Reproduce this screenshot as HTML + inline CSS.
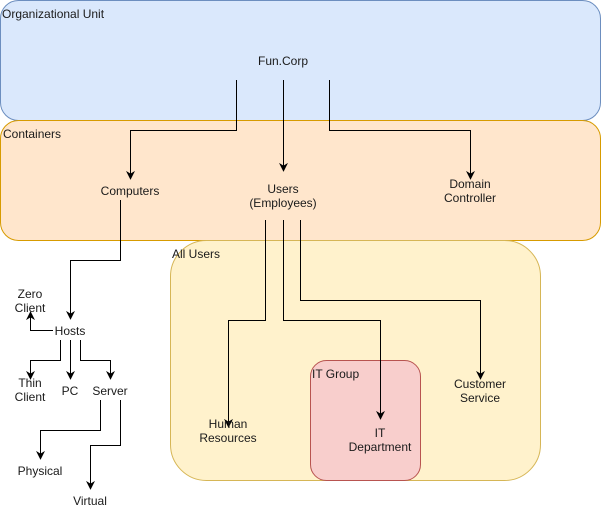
<!DOCTYPE html>
<html><head><meta charset="utf-8"><style>
html,body{margin:0;padding:0;background:#fff;}
svg{display:block;}
text{font-family:"Liberation Sans",Helvetica,Arial,sans-serif;font-size:12px;fill:#1a1a1a;}
</style></head><body>
<svg width="601" height="511" viewBox="0 0 601 511" xmlns="http://www.w3.org/2000/svg">
<defs>
<marker id="a" viewBox="0 0 10 10" refX="9" refY="5" markerWidth="9" markerHeight="9" markerUnits="userSpaceOnUse" orient="auto"><path d="M0,0 L10,5 L0,10 L3,5 z" fill="#000"/></marker>
</defs>
<rect x="0.5" y="0.5" width="600" height="120" rx="18" fill="#dae8fc" stroke="#6c8ebf"/>
<rect x="0.5" y="120.5" width="600" height="120" rx="18" fill="#ffe6cc" stroke="#d79b00"/>
<rect x="170.5" y="240.5" width="370" height="240" rx="36" fill="#fff2cc" stroke="#d6b656"/>
<rect x="310.5" y="360.5" width="110" height="120" rx="16" fill="#f8cecc" stroke="#b85450"/>

<g fill="none" stroke="#000" stroke-width="1" marker-end="url(#a)">
<path d="M236.5 80 V130.5 H130.5 V179"/>
<path d="M283.5 80 V171"/>
<path d="M329.5 80 V130.5 H470.5 V179"/>
<path d="M265.5 220 V320.5 H228.5 V427"/>
<path d="M283.5 220 V320.5 H380.5 V419"/>
<path d="M300.5 220 V300.5 H480.5 V379"/>
<path d="M120.5 200 V260.5 H70.5 V319"/>
<path d="M53 330.5 H30.5 V312"/>
<path d="M60.5 340 V360.5 H30.5 V379"/>
<path d="M70.5 340 V379"/>
<path d="M80.5 340 V360.5 H110.5 V379"/>
<path d="M100.5 400 V430.5 H40.5 V459"/>
<path d="M120.5 400 V445.5 H90.5 V489"/>
</g>

<text x="2" y="18">Organizational Unit</text>
<text x="3" y="138">Containers</text>
<text x="172" y="258">All Users</text>
<text x="312" y="378">IT Group</text>
<g text-anchor="middle">
<text x="283" y="65">Fun.Corp</text>
<text x="130" y="195">Computers</text>
<text x="283" y="193">Users</text>
<text x="283" y="207">(Employees)</text>
<text x="470" y="188">Domain</text>
<text x="470" y="202">Controller</text>
<text x="228" y="428">Human</text>
<text x="228" y="442">Resources</text>
<text x="380" y="437">IT</text>
<text x="380" y="451">Department</text>
<text x="480" y="388">Customer</text>
<text x="480" y="402">Service</text>
<text x="70" y="335">Hosts</text>
<text x="30" y="298">Zero</text>
<text x="30" y="312">Client</text>
<text x="30" y="387">Thin</text>
<text x="30" y="401">Client</text>
<text x="70" y="395">PC</text>
<text x="110" y="395">Server</text>
<text x="40" y="475">Physical</text>
<text x="90" y="505">Virtual</text>
</g>
</svg>
</body></html>
